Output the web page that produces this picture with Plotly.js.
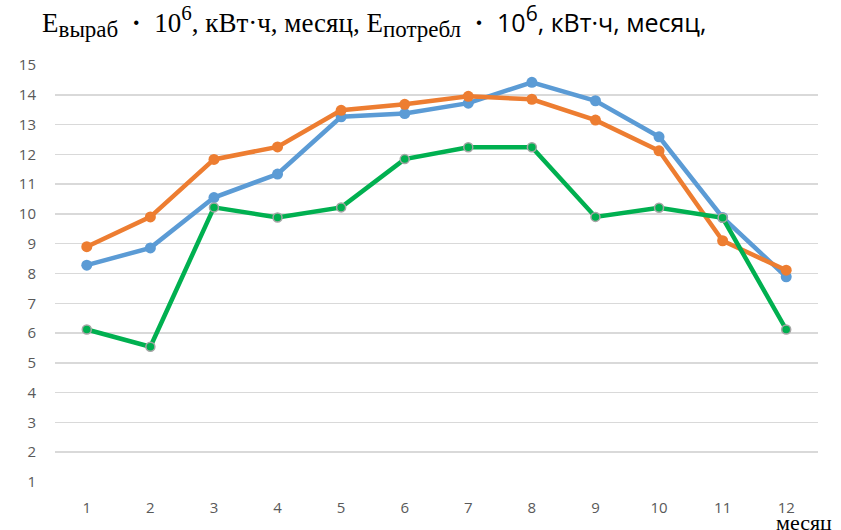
<!DOCTYPE html>
<html>
<head>
<meta charset="utf-8">
<script src="https://cdn.plot.ly/plotly-3.0.1.min.js"></script>
<style>html,body{margin:0;padding:0;background:#fff;}#chart{width:841px;height:530px;}</style>
</head>
<body>
<div id="chart"></div>
<script>
const months = [1,2,3,4,5,6,7,8,9,10,11,12];
const monthLabels = ['1','2','3','4','5','6','7','8','9','10','11','12'];
const blueValues   = [8.28, 8.86, 10.55, 11.34, 13.26, 13.37, 13.72, 14.42, 13.80, 12.59, 9.88, 7.89];
const orangeValues = [8.90, 9.90, 11.83, 12.25, 13.48, 13.68, 13.95, 13.85, 13.15, 12.12, 9.10, 8.11];
const greenValues  = [6.12, 5.54, 10.22, 9.88, 10.22, 11.84, 12.24, 12.24, 9.90, 10.21, 9.87, 6.12];
const yTicks = [1,2,3,4,5,6,7,8,9,10,11,12,13,14,15];

const traces = [
  {x: months, y: blueValues, type:'scatter', mode:'lines+markers',
   line:{color:'#5B9BD5', width:4.5}, marker:{color:'#5B9BD5', size:11}},
  {x: months, y: orangeValues, type:'scatter', mode:'lines+markers',
   line:{color:'#ED7D31', width:4.5}, marker:{color:'#ED7D31', size:11}},
  {x: months, y: greenValues, type:'scatter', mode:'lines+markers',
   line:{color:'#00B050', width:4.5}, marker:{color:'#00B050', size:9, line:{color:'#A5A5A5', width:1.5}}}
];

const sub = s => '<sub><span style="font-size:23px">' + s + '</span></sub>';
const sup = s => '<sup><span style="font-size:21px">' + s + '</span></sup>';
const sansPart = '<span style="font-family:\'Open Sans\', sans-serif; font-size:25px">';
const layout = {
  width: 841, height: 530,
  margin: {l:55, r:23, t:65, b:48},
  paper_bgcolor:'#fff', plot_bgcolor:'#fff',
  showlegend:false,
  font:{family:'"Open Sans", sans-serif', color:'#595959', size:15},
  title:{
    text:'E' + sub('выраб') + '  <b>·</b>  10' + sup('6') + ', кВт·ч, месяц, E' + sub('потребл') + '  <b>·</b>  ' + sansPart + '10' + sup('6') + ', кВт·ч, месяц,</span>',
    font:{family:'"Liberation Serif", serif', size:27, color:'#000'},
    xref:'container', yref:'container', x:0.05, xanchor:'left', y:0.958, yanchor:'middle'
  },
  xaxis:{
    type:'linear', range:[0.5,12.5], tickvals: months, ticktext: monthLabels,
    showgrid:false, zeroline:false, showline:false,
    ticks:'outside', ticklen:12, tickcolor:'rgba(0,0,0,0)',
    tickfont:{size:15, color:'#595959'}, fixedrange:true
  },
  yaxis:{
    range:[1,15], tickvals: yTicks, showgrid:true, gridcolor:'#D9D9D9', gridwidth:1.5,
    zeroline:false, showline:false, ticks:'', ticklabelstandoff:18,
    tickfont:{size:15, color:'#595959'}, fixedrange:true
  },
  annotations:[
    {text:'месяц', xref:'paper', yref:'paper', x:0.942, y:-0.062, xanchor:'left', yanchor:'top',
     showarrow:false, font:{family:'"Liberation Serif", serif', size:22, color:'#000'}}
  ]
};
Plotly.newPlot('chart', traces, layout, {displayModeBar:false, staticPlot:true});
</script>
</body>
</html>
